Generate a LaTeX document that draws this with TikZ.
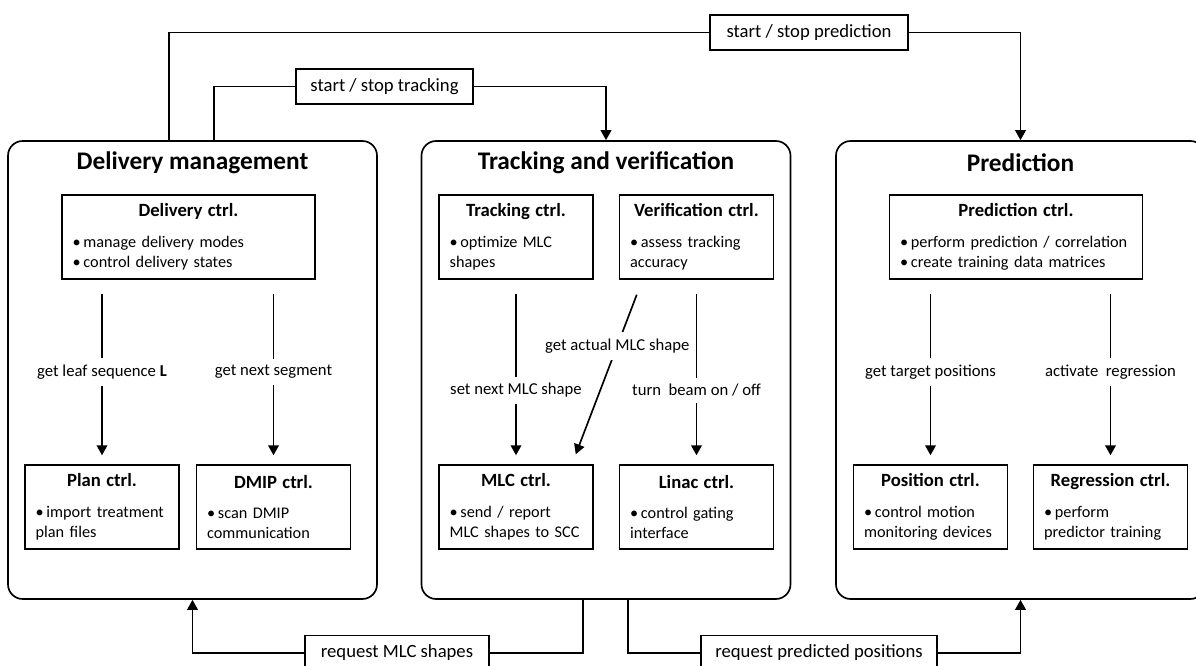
\documentclass[tikz,border=0pt]{standalone}
\usepackage{fontspec}
\setmainfont{Carlito}
\usetikzlibrary{arrows.meta,calc}

\newcommand{\itm}{•\kern2pt}

\begin{document}
\begin{tikzpicture}[x=0.75pt,y=-0.75pt,>={Triangle[length=7.5pt,width=8pt]},line width=1.25pt]
\tikzstyle{panel}=[draw,rounded corners=11pt,minimum width=276.75pt,minimum height=343.5pt]
\tikzstyle{ptitle}=[font=\fontsize{19}{23}\selectfont\bfseries]
\tikzstyle{ctrl}=[draw,line width=1.1pt,minimum height=63pt,inner xsep=8pt,align=left,font=\fontsize{12.2}{15}\selectfont]
\tikzstyle{wide}=[ctrl,text width=173.75pt]
\tikzstyle{narrow}=[ctrl,text width=99.5pt]
\tikzstyle{msg}=[draw,fill=white,line width=1.1pt,minimum height=26.25pt,font=\fontsize{14}{17}\selectfont]
\tikzstyle{lbl}=[fill=white,inner xsep=2pt,inner ysep=5pt,font=\fontsize{12.5}{15}\selectfont]
\tikzstyle{flow}=[->,shorten <=10.5pt,shorten >=6.75pt]
\useasboundingbox (0,0) rectangle (1196,666);
\clip (0,0) rectangle (1196,666);
% panels
\node[panel] (dm) at (192.5,370) {};
\node[panel] (tv) at (606,370) {};
\node[panel] (pr) at (1020.5,370) {};
\node[ptitle] (dmt) at (192.5,163) {Delivery management};
\node[ptitle] (tvt) at (606,163) {Tracking and verification};
\node[ptitle] (prt) at (1020.5,163) {Prediction};
% controllers
\node[wide] (dlv) at (188.5,237) {{\centering\fontsize{14}{17}\selectfont\bfseries Delivery ctrl.\par}\vspace{8pt}\itm manage delivery modes\\\itm control delivery states};
\node[narrow] (plan) at (102,507) {{\centering\fontsize{14}{17}\selectfont\bfseries Plan ctrl.\par}\vspace{8pt}\itm import treatment\\plan files};
\node[narrow] (dmip) at (273.5,507) {{\centering\fontsize{14}{17}\selectfont\bfseries DMIP ctrl.\par}\vspace{8pt}\itm scan DMIP\\communication};
\node[narrow] (trk) at (516,237) {{\centering\fontsize{14}{17}\selectfont\bfseries Tracking ctrl.\par}\vspace{8pt}\itm optimize MLC\\shapes};
\node[narrow] (ver) at (696.5,237) {{\centering\fontsize{14}{17}\selectfont\bfseries Verification ctrl.\par}\vspace{8pt}\itm assess tracking\\accuracy};
\node[narrow] (mlc) at (516,507) {{\centering\fontsize{14}{17}\selectfont\bfseries MLC ctrl.\par}\vspace{8pt}\itm send / report\\MLC shapes to SCC};
\node[narrow] (lin) at (696.5,507) {{\centering\fontsize{14}{17}\selectfont\bfseries Linac ctrl.\par}\vspace{8pt}\itm control gating\\interface};
\node[wide] (prc) at (1016,237) {{\centering\fontsize{14}{17}\selectfont\bfseries Prediction ctrl.\par}\vspace{8pt}\itm perform prediction / correlation\\\itm create training data matrices};
\node[narrow] (pos) at (930.5,507) {{\centering\fontsize{14}{17}\selectfont\bfseries Position ctrl.\par}\vspace{8pt}\itm control motion\\monitoring devices};
\node[narrow] (reg) at (1110.5,507) {{\centering\fontsize{14}{17}\selectfont\bfseries Regression ctrl.\par}\vspace{8pt}\itm perform\\predictor training};
% calls inside the panels
\draw[flow] (plan |- dlv.south) -- node[lbl]{get leaf sequence \textbf{L}} (plan.north);
\draw[flow] (dmip |- dlv.south) -- node[lbl]{get next segment} (dmip.north);
\draw[flow] (mlc |- trk.south) -- node[lbl,pos=.6]{set next MLC shape} (mlc.north);
\draw[flow] (lin |- ver.south) -- node[lbl,pos=.6]{turn\ \ beam on / off} (lin.north);
\draw[->] ($(ver.south west)+(18,15)$) -- node[lbl,pos=.32]{get actual MLC shape} ($(mlc.north east)+(-18,-10)$);
\draw[flow] (pos |- prc.south) -- node[lbl]{get target positions} (pos.north);
\draw[flow] (reg |- prc.south) -- node[lbl]{activate\ \ regression} (reg.north);
% messages between panels
\node[msg,minimum width=148.5pt] (sp) at (809,32.5) {start / stop prediction};
\node[msg,minimum width=132.75pt] (st) at (384.5,86.5) {start / stop tracking};
\node[msg,minimum width=138pt] (rm) at (397,653) {request MLC shapes};
\node[msg,minimum width=177pt] (rp) at (819,653) {request predicted positions};
\draw ($(dm.north west)+(162,0)$) |- (sp.west);
\draw[->] (sp.east) -| (pr.north);
\draw ($(dm.north west)+(207,0)$) |- (st.west);
\draw[->] (st.east) -| (tv.north);
\draw ($(tv.south west)+(162,0)$) |- (rm.east);
\draw[->] (rm.west) -| (dm.south);
\draw ($(tv.south west)+(207,0)$) |- (rp.west);
\draw[->] (rp.east) -| (pr.south);
\end{tikzpicture}
\end{document}
